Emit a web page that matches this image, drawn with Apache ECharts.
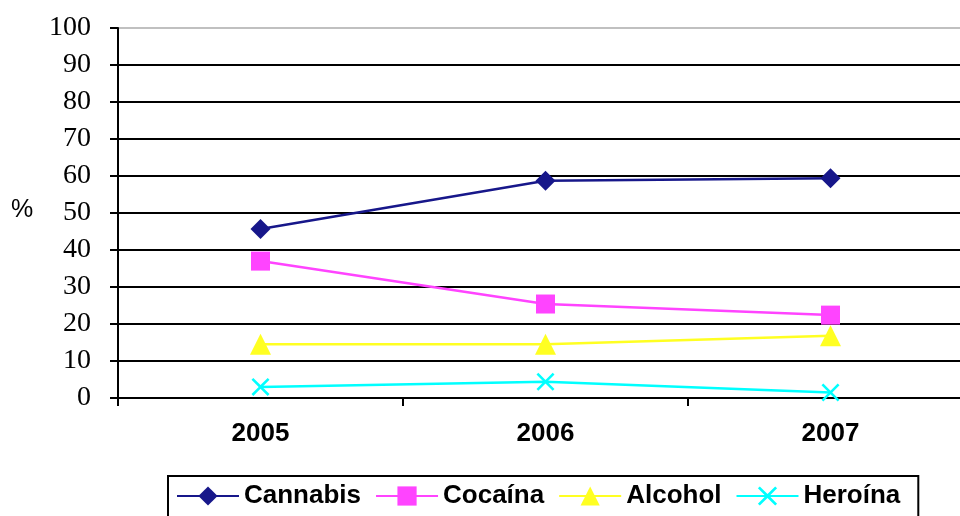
<!DOCTYPE html>
<html><head><meta charset="utf-8">
<script src="https://cdn.jsdelivr.net/npm/echarts@6/dist/echarts.min.js"></script>
<style>html,body{margin:0;padding:0;background:#fff}#c{width:960px;height:516px}</style>
</head><body><div id="c"></div>
<script>
const categories = ['2005', '2006', '2007'];
const cannabis = [45.7, 58.7, 59.4];
const cocaina = [37.0, 25.4, 22.4];
const alcohol = [14.5, 14.5, 16.8];
const heroina = [3.0, 4.4, 1.5];
const seriesNames = ['Cannabis', 'Cocaína', 'Alcohol', 'Heroína'];

const xPath = 'path://M0,1L1,0L5,4L9,0L10,1L6,5L10,9L9,10L5,6L1,10L0,9L4,5Z';
const gridColors = ['#000','#000','#000','#000','#000','#000','#000','#000','#000','#000','#c0c0c0'];
const chart = echarts.init(document.getElementById('c'));
function mk(name, data, color, symbol, size) {
  return {
    name, type: 'line', data, symbol, symbolSize: size,
    lineStyle: { color, width: 2.5 },
    itemStyle: { color },
    animation: false
  };
}
chart.setOption({
  animation: false,
  grid: { left: 118, width: 855, top: 28, bottom: 118, outerBoundsMode: 'none', containLabel: false },
  xAxis: {
    type: 'category', data: categories, boundaryGap: true,
    axisLine: { lineStyle: { color: '#000', width: 2 } },
    axisTick: { show: true, length: 8, lineStyle: { color: '#000', width: 2 } },
    axisLabel: { fontFamily: 'Liberation Sans, Arial', fontWeight: 'bold', fontSize: 26, color: '#000', margin: 23 }
  },
  yAxis: {
    type: 'value', min: 0, max: 100, interval: 10,
    axisLine: { show: true, lineStyle: { color: '#000', width: 2 } },
    axisTick: { show: true, inside: false, length: 8, lineStyle: { color: '#000', width: 2 } },
    axisLabel: { fontFamily: 'Liberation Serif, Times New Roman', fontSize: 28, color: '#000', margin: 27 },
    splitLine: { show: true, lineStyle: { color: gridColors, width: 2 } }
  },
  graphic: [{
    type: 'text', left: 11, top: 198,
    style: { text: '%', font: '25px "Liberation Sans", Arial', fill: '#000' }
  }],
  legend: {
    data: seriesNames,
    left: 168, top: 476,
    orient: 'horizontal',
    itemWidth: 62, itemHeight: 24, itemGap: 14,
    padding: [7, 18, 10, 8],
    borderColor: '#000', borderWidth: 2,
    textStyle: { fontFamily: 'Liberation Sans, Arial', fontWeight: 'bold', fontSize: 26, color: '#000' }
  },
  series: [
    mk('Cannabis', cannabis, '#17178a', 'diamond', 20),
    mk('Cocaína', cocaina, '#ff44ff', 'rect', 19),
    mk('Alcohol', alcohol, '#ffff22', 'triangle', 21),
    mk('Heroína', heroina, '#00ffff', xPath, 18)
  ]
});
</script></body></html>
